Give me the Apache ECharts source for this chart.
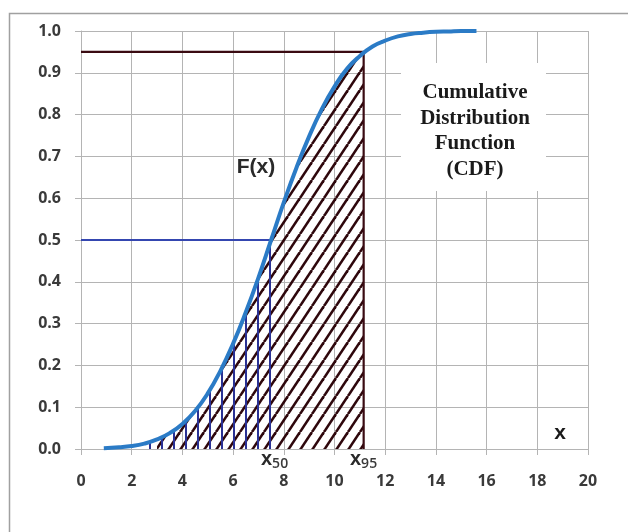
<!DOCTYPE html>
<html>
<head>
<meta charset="utf-8">
<script src="https://cdn.jsdelivr.net/npm/echarts@6/dist/echarts.min.js"></script>
<style>
html,body{margin:0;padding:0;background:#fff;}
#chart{width:628px;height:532px;}
</style>
</head>
<body>
<div id="chart"></div>
<script>
// ---- data ----
const cdfX = [0.9, 1.5, 2, 2.5, 3, 3.5, 4, 4.5, 5, 5.5, 6, 6.5, 7, 7.5, 8, 8.5, 9, 9.5, 10, 10.5, 11, 11.5, 12, 12.5, 13, 13.5, 14, 14.5, 15, 15.6];
const cdfY = [0.002, 0.004, 0.007, 0.013, 0.023, 0.038, 0.06, 0.091, 0.133, 0.187, 0.252, 0.327, 0.41, 0.5, 0.59, 0.673, 0.748, 0.813, 0.867, 0.91, 0.94, 0.963, 0.977, 0.987, 0.993, 0.996, 0.998, 0.999, 1.0, 1.0];
const x50 = 7.55, p50 = 0.5;
const x95 = 11.15, p95 = 0.95;
const verticalHatchStart = 2.5;
const diagonalHatchStart = 3;
const xTicks = [0, 2, 4, 6, 8, 10, 12, 14, 16, 18, 20];
const yTicks = [0, 0.1, 0.2, 0.3, 0.4, 0.5, 0.6, 0.7, 0.8, 0.9, 1.0];
const annotationFx = 'F(x)';
const annotationCdf = ['Cumulative', 'Distribution', 'Function', '(CDF)'];
const axisName = 'x';

// ---- derived ----
const cdf = cdfX.map((x, i) => [x, cdfY[i]]);
const diagArea = cdf.filter(p => p[0] >= diagonalHatchStart && p[0] < x95).concat([[x95, p95]]);
const vertArea = cdf.filter(p => p[0] >= verticalHatchStart && p[0] < x50).concat([[x50, p50]]);

function makeDiagPattern() {
  const w = 12, h = 18;
  const c = document.createElement('canvas');
  c.width = w; c.height = h;
  const g = c.getContext('2d');
  g.strokeStyle = '#2e070c';
  g.lineWidth = 2.6;
  for (const off of [-w, 0, w]) {
    g.beginPath();
    g.moveTo(off, h);
    g.lineTo(off + w, 0);
    g.stroke();
  }
  return c;
}
function makeVertPattern() {
  const w = 12, h = 12;
  const c = document.createElement('canvas');
  c.width = w; c.height = h;
  const g = c.getContext('2d');
  g.fillStyle = '#2a3194';
  g.fillRect(5, 0, 2, h);
  return c;
}

const gridColor = '#b4b4b4';
const labelFont = { fontFamily: 'Open Sans', fontWeight: 'bold', fontSize: 16, color: '#3a3a3a' };

const chart = echarts.init(document.getElementById('chart'), null, { renderer: 'canvas' });
chart.setOption({
  animation: false,
  backgroundColor: '#ffffff',
  grid: { left: 81, right: 40, top: 31, bottom: 83 },
  xAxis: {
    type: 'value', min: xTicks[0], max: xTicks[xTicks.length - 1], interval: 2,
    axisLine: { show: true, lineStyle: { color: gridColor, width: 1 } },
    axisTick: { show: true, length: 6, lineStyle: { color: gridColor } },
    splitLine: { show: true, lineStyle: { color: gridColor, width: 1 } },
    axisLabel: Object.assign({ margin: 24 }, labelFont)
  },
  yAxis: {
    type: 'value', min: yTicks[0], max: yTicks[yTicks.length - 1], interval: 0.1,
    axisLine: { show: true, lineStyle: { color: gridColor, width: 1 } },
    axisTick: { show: true, length: 6, lineStyle: { color: gridColor } },
    splitLine: { show: true, lineStyle: { color: gridColor, width: 1 } },
    axisLabel: Object.assign({ margin: 20, formatter: v => v.toFixed(1) }, labelFont)
  },
  graphic: [
    { type: 'rect', z: 100, silent: true, shape: { x: 9.5, y: 13.5, width: 660, height: 560 },
      style: { fill: 'none', stroke: '#a0a0a0', lineWidth: 1.5 } },
    { type: 'rect', z: 1, silent: true, shape: { x: 401, y: 63, width: 145, height: 128 },
      style: { fill: '#ffffff' } },
    { type: 'text', z: 5, x: 475, y: 131, silent: true,
      style: { text: annotationCdf.join('\n'), fontFamily: 'Liberation Serif', fontWeight: 'bold',
               fontSize: 21, lineHeight: 25.5, fill: '#1a1a1a', align: 'center', verticalAlign: 'middle' } },
    { type: 'text', z: 5, x: 256, y: 167, silent: true,
      style: { text: annotationFx, fontFamily: 'Liberation Sans', fontWeight: 'bold', fontSize: 21,
               fill: '#2a2a2a', align: 'center', verticalAlign: 'middle' } },
    { type: 'text', z: 5, x: 560, y: 433, silent: true,
      style: { text: axisName, fontFamily: 'Liberation Sans', fontWeight: 'bold', fontSize: 21,
               fill: '#1a1a1a', align: 'center', verticalAlign: 'middle' } },
    { type: 'text', z: 5, x: 261, y: 459, silent: true,
      style: { text: '{a|x}{b|50}', align: 'left', verticalAlign: 'middle',
               rich: { a: { fontFamily: 'Liberation Sans', fontWeight: 'bold', fontSize: 20, fill: '#2a2a2a' },
                       b: { fontFamily: 'Open Sans', fontWeight: 600, fontSize: 14, fill: '#3a3a3a', padding: [11, 0, 0, 0] } } } },
    { type: 'text', z: 5, x: 350, y: 459, silent: true,
      style: { text: '{a|x}{b|95}', align: 'left', verticalAlign: 'middle',
               rich: { a: { fontFamily: 'Liberation Sans', fontWeight: 'bold', fontSize: 20, fill: '#2a2a2a' },
                       b: { fontFamily: 'Open Sans', fontWeight: 600, fontSize: 14, fill: '#3a3a3a', padding: [11, 0, 0, 0] } } } }
  ],
  series: [
    { type: 'line', name: 'hatch95', data: diagArea, smooth: true, showSymbol: false, silent: true, z: 2,
      lineStyle: { width: 0 },
      areaStyle: { color: { image: makeDiagPattern(), repeat: 'repeat' }, opacity: 1 } },
    { type: 'line', name: 'hatch50', data: vertArea, smooth: true, showSymbol: false, silent: true, z: 3,
      lineStyle: { width: 0 },
      areaStyle: { color: { image: makeVertPattern(), repeat: 'repeat' }, opacity: 1 } },
    { type: 'line', name: 'p95', data: [[0, p95], [x95, p95], [x95, 0]], showSymbol: false, silent: true, z: 4,
      lineStyle: { color: '#3a0b12', width: 2.2 } },
    { type: 'line', name: 'p50', data: [[0, p50], [x50, p50]], showSymbol: false, silent: true, z: 4,
      lineStyle: { color: '#3446b0', width: 2.2 } },
    { type: 'line', name: 'CDF', data: cdf, smooth: true, showSymbol: false, silent: true, z: 6,
      lineStyle: { color: '#2b7bc6', width: 4 } }
  ]
});
</script>
</body>
</html>
